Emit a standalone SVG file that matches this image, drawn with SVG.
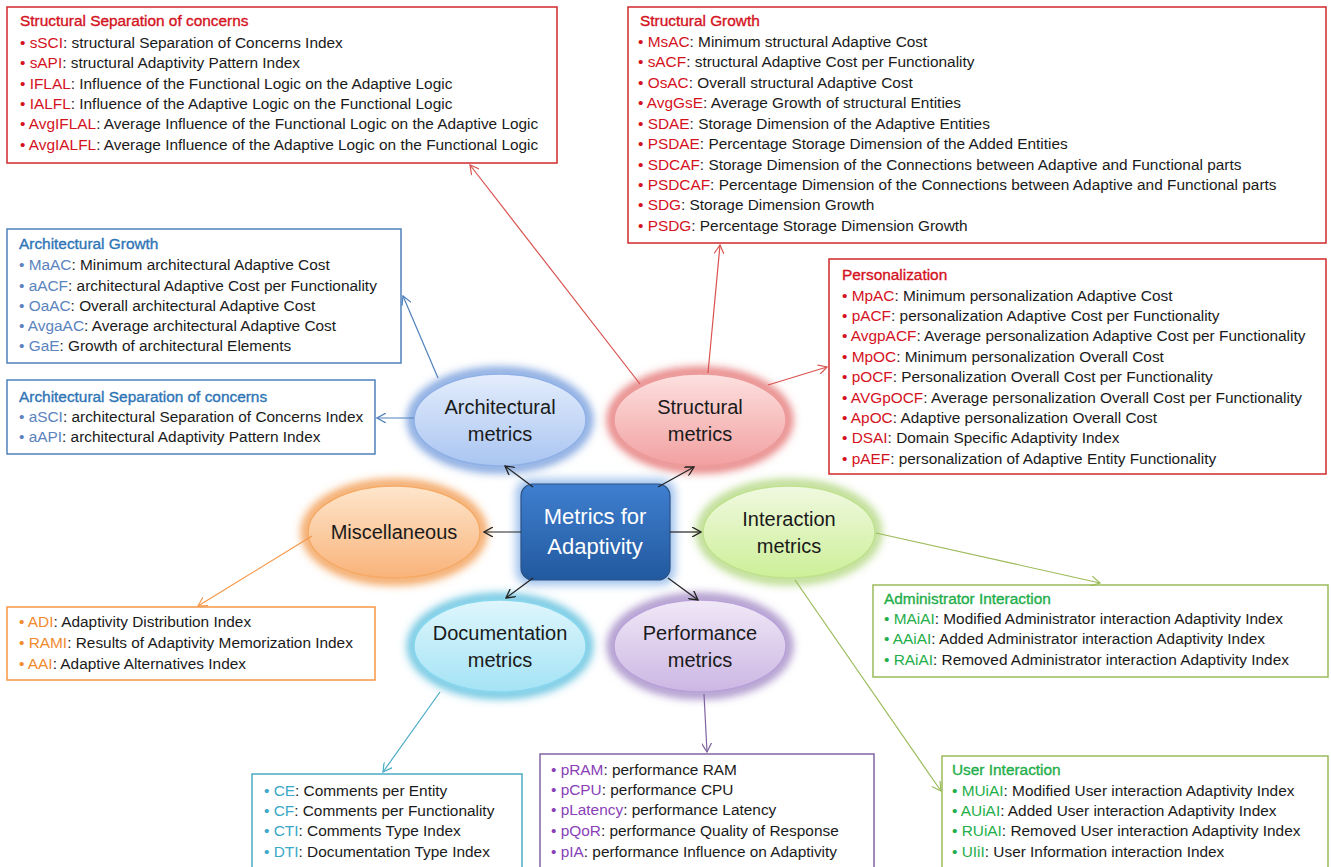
<svg xmlns="http://www.w3.org/2000/svg" width="1331" height="867" viewBox="0 0 1331 867">
<style>
text{font-family:"Liberation Sans",Arial,sans-serif;font-size:15.4px;fill:#1a1a1a}
.box{fill:#fff;stroke-width:1.5}
.ti{stroke-width:0.35}
.r{fill:#d4121e}.b{fill:#5b83bd}.bt{fill:#2e75b6}.o{fill:#f28a2e}.g{fill:#1fae4a}.c{fill:#3aa8c8}.p{fill:#8a3fb8}
.r.ti{stroke:#d4121e}.bt.ti{stroke:#2e75b6}.g.ti{stroke:#1fae4a}
.el{font-size:20px;text-anchor:middle;fill:#1a1a1a}
.ctr{font-size:22px;text-anchor:middle;fill:#fff}
.con{fill:none;stroke-width:1.2}
</style>
<defs>
<filter id="glow" x="-30%" y="-30%" width="160%" height="160%"><feGaussianBlur stdDeviation="5"/></filter>
<linearGradient id="gA" x1="0" y1="0" x2="0" y2="1"><stop offset="0" stop-color="#e4edfc"/><stop offset="1" stop-color="#a9c5f1"/></linearGradient>
<linearGradient id="gS" x1="0" y1="0" x2="0" y2="1"><stop offset="0" stop-color="#fde0e0"/><stop offset="1" stop-color="#f2a0a0"/></linearGradient>
<linearGradient id="gM" x1="0" y1="0" x2="0" y2="1"><stop offset="0" stop-color="#fee6cc"/><stop offset="1" stop-color="#f9b37a"/></linearGradient>
<linearGradient id="gI" x1="0" y1="0" x2="0" y2="1"><stop offset="0" stop-color="#f0f9e0"/><stop offset="1" stop-color="#cdef98"/></linearGradient>
<linearGradient id="gD" x1="0" y1="0" x2="0" y2="1"><stop offset="0" stop-color="#dff6fc"/><stop offset="1" stop-color="#a4e3f5"/></linearGradient>
<linearGradient id="gP" x1="0" y1="0" x2="0" y2="1"><stop offset="0" stop-color="#f0e8f7"/><stop offset="1" stop-color="#ccb6e3"/></linearGradient>
<linearGradient id="gC" x1="0" y1="0" x2="0" y2="1"><stop offset="0" stop-color="#3f7fd0"/><stop offset="1" stop-color="#22599e"/></linearGradient>
<marker id="mK" viewBox="0 0 10 10" refX="9" refY="5" markerWidth="10" markerHeight="10" markerUnits="userSpaceOnUse" orient="auto"><path d="M0,0 L9,5 L0,10" fill="none" stroke="#222" stroke-width="1.3"/></marker>
<marker id="mR" viewBox="0 0 10 10" refX="9" refY="5" markerWidth="10" markerHeight="10" markerUnits="userSpaceOnUse" orient="auto"><path d="M0,0 L9,5 L0,10" fill="none" stroke="#d9534f" stroke-width="1.2"/></marker>
<marker id="mB" viewBox="0 0 10 10" refX="9" refY="5" markerWidth="10" markerHeight="10" markerUnits="userSpaceOnUse" orient="auto"><path d="M0,0 L9,5 L0,10" fill="none" stroke="#4f81bd" stroke-width="1.2"/></marker>
<marker id="mO" viewBox="0 0 10 10" refX="9" refY="5" markerWidth="10" markerHeight="10" markerUnits="userSpaceOnUse" orient="auto"><path d="M0,0 L9,5 L0,10" fill="none" stroke="#f79646" stroke-width="1.2"/></marker>
<marker id="mG" viewBox="0 0 10 10" refX="9" refY="5" markerWidth="10" markerHeight="10" markerUnits="userSpaceOnUse" orient="auto"><path d="M0,0 L9,5 L0,10" fill="none" stroke="#9bbb59" stroke-width="1.2"/></marker>
<marker id="mC" viewBox="0 0 10 10" refX="9" refY="5" markerWidth="10" markerHeight="10" markerUnits="userSpaceOnUse" orient="auto"><path d="M0,0 L9,5 L0,10" fill="none" stroke="#4bacc6" stroke-width="1.2"/></marker>
<marker id="mP" viewBox="0 0 10 10" refX="9" refY="5" markerWidth="10" markerHeight="10" markerUnits="userSpaceOnUse" orient="auto"><path d="M0,0 L9,5 L0,10" fill="none" stroke="#8064a2" stroke-width="1.2"/></marker>
</defs>
<rect width="1331" height="867" fill="#fff"/>

<g id="box-structural-separation">
<rect class="box" x="7" y="7" width="550" height="156" stroke="#d0282d"/>
<text x="20" y="26" class="r ti">Structural Separation of concerns</text>
<text x="20" y="48"><tspan class="r">• sSCI</tspan>: structural Separation of Concerns Index</text>
<text x="20" y="68"><tspan class="r">• sAPI</tspan>: structural Adaptivity Pattern Index</text>
<text x="20" y="89"><tspan class="r">• IFLAL</tspan>: Influence of the Functional Logic on the Adaptive Logic</text>
<text x="20" y="109"><tspan class="r">• IALFL</tspan>: Influence of the Adaptive Logic on the Functional Logic</text>
<text x="20" y="129"><tspan class="r">• AvgIFLAL</tspan>: Average Influence of the Functional Logic on the Adaptive Logic</text>
<text x="20" y="150"><tspan class="r">• AvgIALFL</tspan>: Average Influence of the Adaptive Logic on the Functional Logic</text>
</g>

<g id="box-structural-growth">
<rect class="box" x="628" y="7" width="698" height="236" stroke="#d0282d"/>
<text x="640" y="26" class="r ti">Structural Growth</text>
<text x="638" y="47"><tspan class="r">• MsAC</tspan>: Minimum structural Adaptive Cost</text>
<text x="638" y="67"><tspan class="r">• sACF</tspan>: structural Adaptive Cost per Functionality</text>
<text x="638" y="88"><tspan class="r">• OsAC</tspan>: Overall structural Adaptive Cost</text>
<text x="638" y="108"><tspan class="r">• AvgGsE</tspan>: Average Growth of structural Entities</text>
<text x="638" y="129"><tspan class="r">• SDAE</tspan>: Storage Dimension of the Adaptive Entities</text>
<text x="638" y="149"><tspan class="r">• PSDAE</tspan>: Percentage Storage Dimension of the Added Entities</text>
<text x="638" y="170"><tspan class="r">• SDCAF</tspan>: Storage Dimension of the Connections between Adaptive and Functional parts</text>
<text x="638" y="190"><tspan class="r">• PSDCAF</tspan>: Percentage Dimension of the Connections between Adaptive and Functional parts</text>
<text x="638" y="210"><tspan class="r">• SDG</tspan>: Storage Dimension Growth</text>
<text x="638" y="231"><tspan class="r">• PSDG</tspan>: Percentage Storage Dimension Growth</text>
</g>

<g id="box-architectural-growth">
<rect class="box" x="7" y="229" width="394" height="134" stroke="#4f81bd"/>
<text x="19" y="249" class="bt ti">Architectural Growth</text>
<text x="19" y="270"><tspan class="b">• MaAC</tspan>: Minimum architectural Adaptive Cost</text>
<text x="19" y="291"><tspan class="b">• aACF</tspan>: architectural Adaptive Cost per Functionality</text>
<text x="19" y="311"><tspan class="b">• OaAC</tspan>: Overall architectural Adaptive Cost</text>
<text x="19" y="331"><tspan class="b">• AvgaAC</tspan>: Average architectural Adaptive Cost</text>
<text x="19" y="351"><tspan class="b">• GaE</tspan>: Growth of architectural Elements</text>
</g>

<g id="box-architectural-separation">
<rect class="box" x="7" y="380" width="368" height="74" stroke="#4f81bd"/>
<text x="19" y="402" class="bt ti">Architectural Separation of concerns</text>
<text x="19" y="422"><tspan class="b">• aSCI</tspan>: architectural Separation of Concerns Index</text>
<text x="19" y="442"><tspan class="b">• aAPI</tspan>: architectural Adaptivity Pattern Index</text>
</g>

<g id="box-personalization">
<rect class="box" x="829" y="259" width="497" height="215" stroke="#d0282d"/>
<text x="842" y="280" class="r ti">Personalization</text>
<text x="842" y="301"><tspan class="r">• MpAC</tspan>: Minimum personalization Adaptive Cost</text>
<text x="842" y="321"><tspan class="r">• pACF</tspan>: personalization Adaptive Cost per Functionality</text>
<text x="842" y="341"><tspan class="r">• AvgpACF</tspan>: Average personalization Adaptive Cost per Functionality</text>
<text x="842" y="362"><tspan class="r">• MpOC</tspan>: Minimum personalization Overall Cost</text>
<text x="842" y="382"><tspan class="r">• pOCF</tspan>: Personalization Overall Cost per Functionality</text>
<text x="842" y="403"><tspan class="r">• AVGpOCF</tspan>: Average personalization Overall Cost per Functionality</text>
<text x="842" y="423"><tspan class="r">• ApOC</tspan>: Adaptive personalization Overall Cost</text>
<text x="842" y="443"><tspan class="r">• DSAI</tspan>: Domain Specific Adaptivity Index</text>
<text x="842" y="464"><tspan class="r">• pAEF</tspan>: personalization of Adaptive Entity Functionality</text>
</g>

<g id="box-miscellaneous">
<rect class="box" x="7" y="607" width="368" height="73" stroke="#f79646"/>
<text x="19" y="627"><tspan class="o">• ADI</tspan>: Adaptivity Distribution Index</text>
<text x="19" y="648"><tspan class="o">• RAMI</tspan>: Results of Adaptivity Memorization Index</text>
<text x="19" y="669"><tspan class="o">• AAI</tspan>: Adaptive Alternatives Index</text>
</g>

<g id="box-administrator">
<rect class="box" x="873" y="585" width="455" height="92" stroke="#9bbb59"/>
<text x="884" y="604" class="g ti">Administrator Interaction</text>
<text x="884" y="624"><tspan class="g">• MAiAI</tspan>: Modified Administrator interaction Adaptivity Index</text>
<text x="884" y="644"><tspan class="g">• AAiAI</tspan>: Added Administrator interaction Adaptivity Index</text>
<text x="884" y="665"><tspan class="g">• RAiAI</tspan>: Removed Administrator interaction Adaptivity Index</text>
</g>

<g id="box-documentation">
<rect class="box" x="252" y="774" width="270" height="100" stroke="#4bacc6"/>
<text x="264" y="796"><tspan class="c">• CE</tspan>: Comments per Entity</text>
<text x="264" y="816"><tspan class="c">• CF</tspan>: Comments per Functionality</text>
<text x="264" y="836"><tspan class="c">• CTI</tspan>: Comments Type Index</text>
<text x="264" y="857"><tspan class="c">• DTI</tspan>: Documentation Type Index</text>
</g>

<g id="box-performance">
<rect class="box" x="540" y="754" width="334" height="120" stroke="#8064a2"/>
<text x="551" y="775"><tspan class="p">• pRAM</tspan>: performance RAM</text>
<text x="551" y="795"><tspan class="p">• pCPU</tspan>: performance CPU</text>
<text x="551" y="815"><tspan class="p">• pLatency</tspan>: performance Latency</text>
<text x="551" y="836"><tspan class="p">• pQoR</tspan>: performance Quality of Response</text>
<text x="551" y="857"><tspan class="p">• pIA</tspan>: performance Influence on Adaptivity</text>
</g>

<g id="box-user">
<rect class="box" x="942" y="756" width="386" height="118" stroke="#9bbb59"/>
<text x="952" y="775" class="g ti">User Interaction</text>
<text x="952" y="796"><tspan class="g">• MUiAI</tspan>: Modified User interaction Adaptivity Index</text>
<text x="952" y="816"><tspan class="g">• AUiAI</tspan>: Added User interaction Adaptivity Index</text>
<text x="952" y="836"><tspan class="g">• RUiAI</tspan>: Removed User interaction Adaptivity Index</text>
<text x="952" y="857"><tspan class="g">• UIiI</tspan>: User Information interaction Index</text>
</g>

<g id="node-architectural">
<ellipse cx="500" cy="420" rx="88" ry="48" fill="none" stroke="#5b8ad6" stroke-width="8" filter="url(#glow)"/>
<ellipse cx="500" cy="420" rx="86" ry="46" fill="url(#gA)" stroke="#8fb0e6" stroke-width="1.5"/>
<text class="el" x="500" y="414">Architectural</text>
<text class="el" x="500" y="441">metrics</text>
</g>
<g id="node-structural">
<ellipse cx="700" cy="420" rx="88" ry="48" fill="none" stroke="#e05a5a" stroke-width="8" filter="url(#glow)"/>
<ellipse cx="700" cy="420" rx="86" ry="46" fill="url(#gS)" stroke="#ec9a9a" stroke-width="1.5"/>
<text class="el" x="700" y="414">Structural</text>
<text class="el" x="700" y="441">metrics</text>
</g>
<g id="node-miscellaneous">
<ellipse cx="394" cy="532" rx="88" ry="48" fill="none" stroke="#f08a30" stroke-width="8" filter="url(#glow)"/>
<ellipse cx="394" cy="532" rx="86" ry="46" fill="url(#gM)" stroke="#f5aa66" stroke-width="1.5"/>
<text class="el" x="394" y="539">Miscellaneous</text>
</g>
<g id="node-interaction">
<ellipse cx="789" cy="532" rx="88" ry="48" fill="none" stroke="#a6d06a" stroke-width="8" filter="url(#glow)"/>
<ellipse cx="789" cy="532" rx="86" ry="46" fill="url(#gI)" stroke="#bfe18e" stroke-width="1.5"/>
<text class="el" x="789" y="526">Interaction</text>
<text class="el" x="789" y="553">metrics</text>
</g>
<g id="node-documentation">
<ellipse cx="500" cy="646" rx="88" ry="48" fill="none" stroke="#40b4d8" stroke-width="8" filter="url(#glow)"/>
<ellipse cx="500" cy="646" rx="86" ry="46" fill="url(#gD)" stroke="#86d6ee" stroke-width="1.5"/>
<text class="el" x="500" y="640">Documentation</text>
<text class="el" x="500" y="667">metrics</text>
</g>
<g id="node-performance">
<ellipse cx="700" cy="646" rx="88" ry="48" fill="none" stroke="#9274bb" stroke-width="8" filter="url(#glow)"/>
<ellipse cx="700" cy="646" rx="86" ry="46" fill="url(#gP)" stroke="#b8a0d8" stroke-width="1.5"/>
<text class="el" x="700" y="640">Performance</text>
<text class="el" x="700" y="667">metrics</text>
</g>
<g id="node-center">
<rect x="516" y="479" width="159" height="106" rx="14" fill="#9cc0ec" filter="url(#glow)"/>
<rect x="521" y="484" width="149" height="96" rx="12" fill="url(#gC)" stroke="#2b5285" stroke-width="1.2"/>
<text class="ctr" x="595" y="524">Metrics for</text>
<text class="ctr" x="595" y="554">Adaptivity</text>
</g>

<g id="connectors">
<path class="con" stroke="#222" d="M533,487 L505,466" marker-end="url(#mK)"/>
<path class="con" stroke="#222" d="M658,487 L694,467" marker-end="url(#mK)"/>
<path class="con" stroke="#222" d="M521,532 L484,532" marker-end="url(#mK)"/>
<path class="con" stroke="#222" d="M670,532 L701,532" marker-end="url(#mK)"/>
<path class="con" stroke="#222" d="M533,578 L506,598" marker-end="url(#mK)"/>
<path class="con" stroke="#222" d="M668,578 L698,600" marker-end="url(#mK)"/>
<path class="con" stroke="#d9534f" d="M640,384 L470,165" marker-end="url(#mR)"/>
<path class="con" stroke="#d9534f" d="M708,373 L720,245" marker-end="url(#mR)"/>
<path class="con" stroke="#d9534f" d="M768,385 L827,367" marker-end="url(#mR)"/>
<path class="con" stroke="#4f81bd" d="M438,378 L403,296" marker-end="url(#mB)"/>
<path class="con" stroke="#4f81bd" d="M414,418 L377,418" marker-end="url(#mB)"/>
<path class="con" stroke="#f79646" d="M312,536 L198,606" marker-end="url(#mO)"/>
<path class="con" stroke="#9bbb59" d="M876,533 L1100,583" marker-end="url(#mG)"/>
<path class="con" stroke="#9bbb59" d="M795,580 L941,791" marker-end="url(#mG)"/>
<path class="con" stroke="#4bacc6" d="M440,692 L383,772" marker-end="url(#mC)"/>
<path class="con" stroke="#8064a2" d="M704,694 L707,752" marker-end="url(#mP)"/>
</g>
</svg>
